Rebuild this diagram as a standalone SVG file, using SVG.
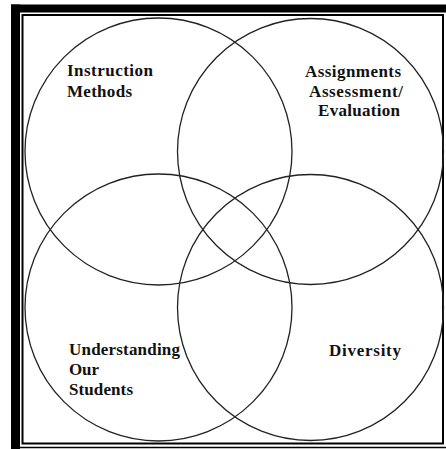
<svg xmlns="http://www.w3.org/2000/svg" width="446" height="449" viewBox="0 0 446 449">
<style>
.frame{fill:none;stroke:#000;stroke-width:2}
.c{fill:none;stroke:#222;stroke-width:1.3}
.t{font-family:"Liberation Serif","Times New Roman",serif;font-weight:bold;font-size:17px;fill:#111}
</style>
<rect width="446" height="449" fill="#fff"/>
<g id="frame">
<rect x="11" y="4.5" width="435" height="8" fill="#000"/>
<rect x="11" y="4.5" width="9" height="444.5" fill="#000"/>
<rect class="frame" x="22.5" y="15" width="420.5" height="428.5"/>
<line x1="20" y1="447.5" x2="446" y2="447.5" stroke="#000" stroke-width="1.5"/>
</g>
<g id="instruction">
<circle class="c" cx="158.5" cy="151.5" r="133.5"/>
<text class="t" x="67" y="76" textLength="86" lengthAdjust="spacing">Instruction</text>
<text class="t" x="67" y="97" textLength="65" lengthAdjust="spacing">Methods</text>
</g>
<g id="assignments">
<circle class="c" cx="310.5" cy="151.5" r="133"/>
<text class="t" x="305" y="77" textLength="96" lengthAdjust="spacing">Assignments</text>
<text class="t" x="309" y="97" textLength="94" lengthAdjust="spacing">Assessment/</text>
<text class="t" x="318" y="116" textLength="82" lengthAdjust="spacing">Evaluation</text>
</g>
<g id="understanding">
<circle class="c" cx="158.5" cy="307.5" r="133.5"/>
<text class="t" x="69" y="355" textLength="111" lengthAdjust="spacing">Understanding</text>
<text class="t" x="69" y="375" textLength="30" lengthAdjust="spacing">Our</text>
<text class="t" x="69" y="395" textLength="64" lengthAdjust="spacing">Students</text>
</g>
<g id="diversity">
<circle class="c" cx="310.5" cy="307.5" r="133"/>
<text class="t" x="329" y="356" textLength="72" lengthAdjust="spacing">Diversity</text>
</g>
<g id="connectors"></g>
</svg>
